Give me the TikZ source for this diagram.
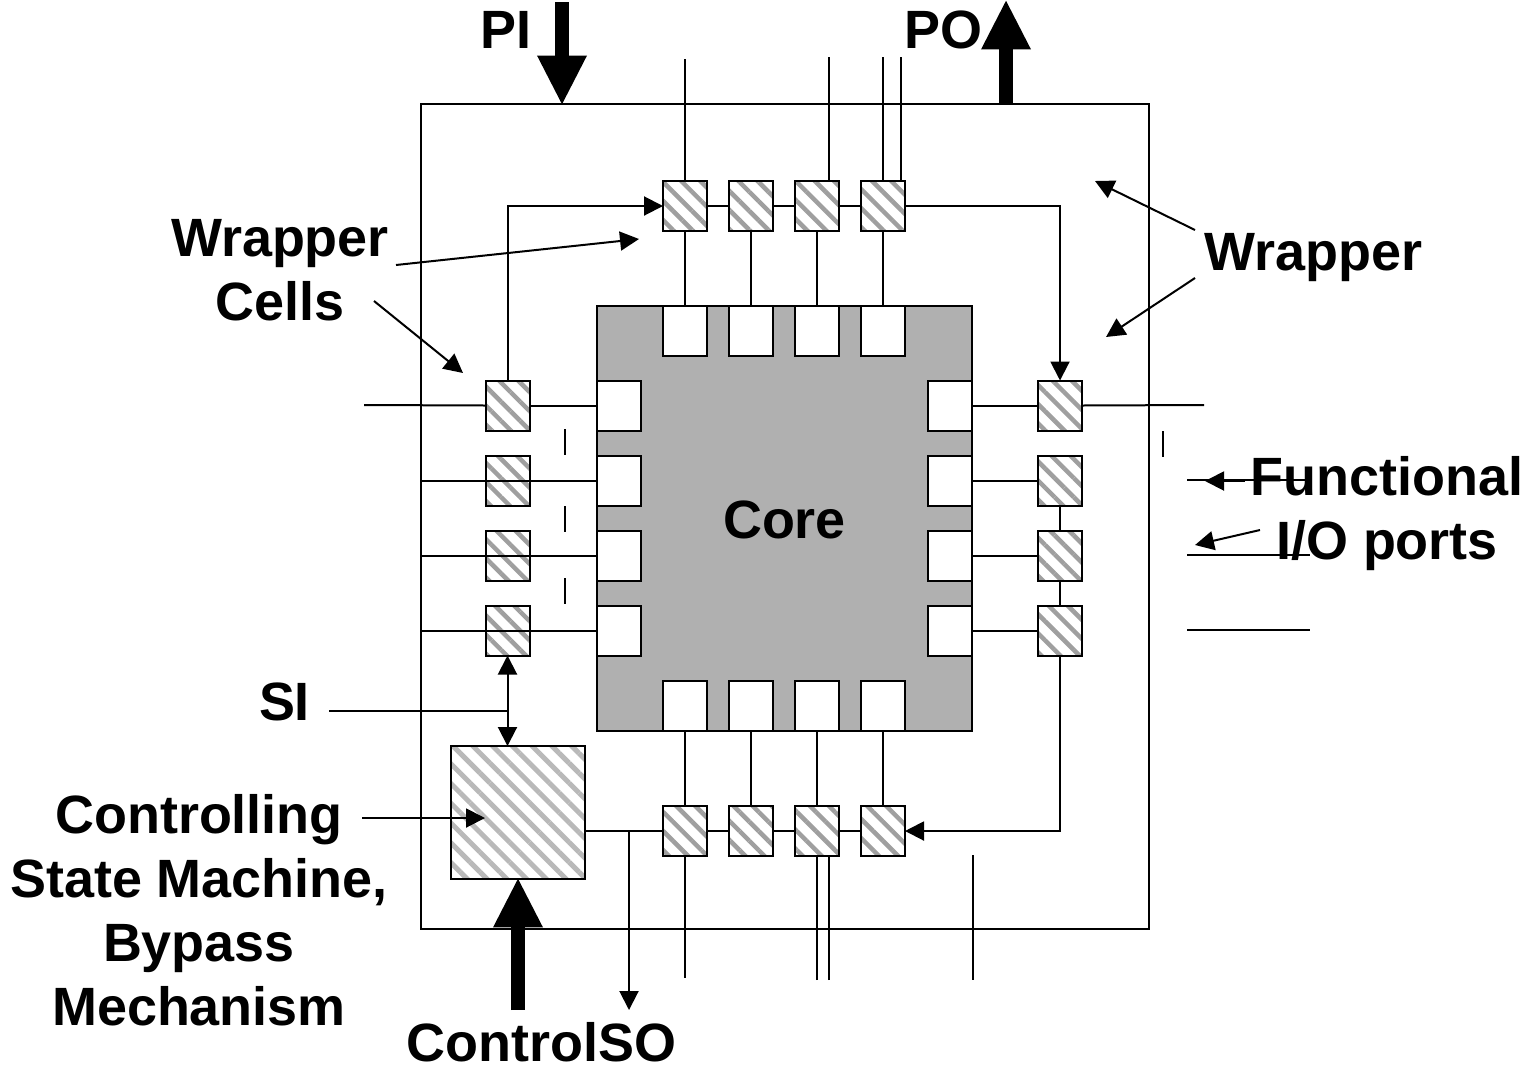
\documentclass[tikz,border=0pt]{standalone}
\usepackage{fontspec}
\setmainfont{Liberation Sans}
\usepackage{xcolor}
\usetikzlibrary{arrows.meta,patterns.meta}
\definecolor{coregray}{RGB}{176,176,176}
\tikzset{
  wire/.style={line width=0.04cm},
  tip/.style={wire,-{Triangle[length=0.38cm,width=0.38cm]}},
  twotip/.style={wire,{Triangle[length=0.38cm,width=0.38cm]}-{Triangle[length=0.38cm,width=0.38cm]}},
  bigarrow/.style={line width=0.28cm,shorten >=-0.03cm,-{Triangle[length=1cm,width=0.92cm]}},
  port/.style={draw,line width=0.04cm,fill=white,inner sep=0,outer sep=0,minimum width=0.88cm,minimum height=1cm},
  wcell/.style={port,pattern={Lines[angle=-45,distance=0.27cm,line width=0.09cm]},pattern color=gray!75},
  ctrlbox/.style={draw,line width=0.04cm,fill=white,inner sep=0,outer sep=0,minimum width=2.68cm,minimum height=2.66cm,
    pattern={Lines[angle=-45,distance=0.28cm,line width=0.1cm]},pattern color=gray!55},
  lbl/.style={font=\fontsize{30.7}{36.4}\selectfont\bfseries,align=center,inner sep=0}
}
\begin{document}
\begin{tikzpicture}[x=0.02cm,y=-0.02cm]
\useasboundingbox (0,0) rectangle (1523,1065);
% Wrapper and core
\node[draw,line width=0.04cm,inner sep=0,outer sep=0,minimum width=14.56cm,minimum height=16.5cm] (wrapper) at (785,516.5) {};
\node[draw,line width=0.04cm,fill=coregray,inner sep=0,outer sep=0,minimum width=7.5cm,minimum height=8.5cm] (core) at (784.5,518.5) {};
\node[lbl] (corelbl) at (784.5,520) {Core};
\node[ctrlbox] (ctrl) at (518,812.5) {};

% Ports and wrapper cells
\foreach \n/\x in {1/685,2/751,3/817,4/883} {
  \node[port] (pt\n) at (\x,331) {};
  \node[port] (pb\n) at (\x,706) {};
  \node[wcell] (wt\n) at (\x,206) {};
  \node[wcell] (wb\n) at (\x,831) {};
  \draw[wire] (wt\n) -- (pt\n);
  \draw[wire] (pb\n) -- (wb\n);
}
\foreach \n/\y in {1/405.5,2/480.5,3/555.5,4/630.5} {
  \node[port] (pl\n) at (619,\y) {};
  \node[port] (pr\n) at (949.5,\y) {};
  \node[wcell] (wl\n) at (507.5,\y) {};
  \node[wcell] (wr\n) at (1060,\y) {};
  \draw[wire] (pr\n) -- (wr\n);
}

% Scan chain
\foreach \a/\b in {wt1/wt2,wt2/wt3,wt3/wt4,wb1/wb2,wb2/wb3,wb3/wb4,wr2/wr3,wr3/wr4} \draw[wire] (\a) -- (\b);
\draw[tip] (wl1.north) |- (wt1.west);
\draw[tip] (wt4.east) -| (wr1.north);
\draw[tip] (wr4.south) |- (wb4.east);
\draw[twotip] (wl4.south) -- (wl4.south |- ctrl.north);
\draw[wire] (ctrl.east |- wb1.west) -- (wb1.west);

% Functional wires, left side
\coordinate (li1) at (364,405);
\draw[wire] (li1) -- (wl1.west);
\draw[wire] (wl1.east) -- (pl1.west);
\foreach \n in {2,3,4} {
  \draw[wire] (wrapper.west |- wl\n) -- (pl\n.west);
}

% Functional wires, right side
\coordinate (ro1) at (1204,405);
\draw[wire] (wr1.east) -- (ro1);
\foreach \n/\y in {2/480,3/555,4/630} {
  \coordinate (rs\n) at (1187,\y);
  \coordinate (re\n) at (1310,\y);
  \draw[wire] (rs\n) -- (re\n);
}

% Wires above and below the cells
\coordinate (to1) at (685,59);
\coordinate (to3) at (829,57);
\coordinate (to4) at (883,57);
\coordinate (to5) at (901,57);
\draw[wire] (to1) -- (wt1.north);
\foreach \n/\c in {3/wt3,4/wt4,5/wt4} \draw[wire] (to\n) -- (to\n |- \c.north);
\coordinate (bo1) at (685,978);
\coordinate (bo3) at (817,980);
\coordinate (bo4) at (829,980);
\coordinate (bo5) at (973,980);
\coordinate (bs5) at (973,855);
\draw[wire] (wb1.south) -- (bo1);
\foreach \n in {3,4} \draw[wire] (bo\n) -- (bo\n |- wb3.south);
\draw[wire] (bs5) -- (bo5);

% Gaps in the pins
\foreach \x/\y in {565/429,565/506,565/578,1163/431} {
  \draw[line width=0.03cm] (\x,\y) -- (\x,\y+26);
}

% Big arrows
\coordinate (pitop) at (562,2);
\coordinate (pitip) at (562,104);
\coordinate (potip) at (1006,1);
\coordinate (pobot) at (1006,104);
\coordinate (ctrlin) at (518,1010);
\draw[bigarrow] (pitop) -- (pitip);
\draw[bigarrow] (pobot) -- (potip);
\draw[bigarrow] (ctrlin) -- (ctrl.south);

% Labels
\node[lbl] (pilbl) at (505.5,30) {PI};
\node[lbl] (polbl) at (943.5,30) {PO};
\node[lbl] (cellslbl) at (280,270) {Wrapper\\Cells};
\node[lbl] (wraplbl) at (1313.5,258) {Wrapper};
\node[lbl] (funclbl) at (1387,514) {Functional\\I/O ports};
\node[lbl] (silbl) at (284.5,702) {SI};
\node[lbl] (ctrllbl) at (199,910) {Controlling\\State Machine,\\Bypass\\Mechanism};
\node[lbl] (solbl) at (541.5,1042) {ControlSO};

% Label arrows
\coordinate (sistart) at (329,711);
\draw[wire] (sistart) -- (sistart -| wl4.south);
\coordinate (soout) at (629,1010);
\draw[tip] (soout |- wb1.west) -- (soout);
\coordinate (a1) at (396,265);
\coordinate (b1) at (639,239);
\coordinate (a2) at (374,301);
\coordinate (b2) at (463,373);
\coordinate (a3) at (1195,230);
\coordinate (b3) at (1095,181);
\coordinate (a4) at (1195,278);
\coordinate (b4) at (1106,337);
\coordinate (a5) at (1245,481);
\coordinate (b5) at (1205,481);
\coordinate (a6) at (1260,530);
\coordinate (b6) at (1195,545);
\coordinate (a7) at (362,818);
\coordinate (b7) at (485,818);
\foreach \n in {1,...,7} \draw[tip] (a\n) -- (b\n);
\end{tikzpicture}
\end{document}
